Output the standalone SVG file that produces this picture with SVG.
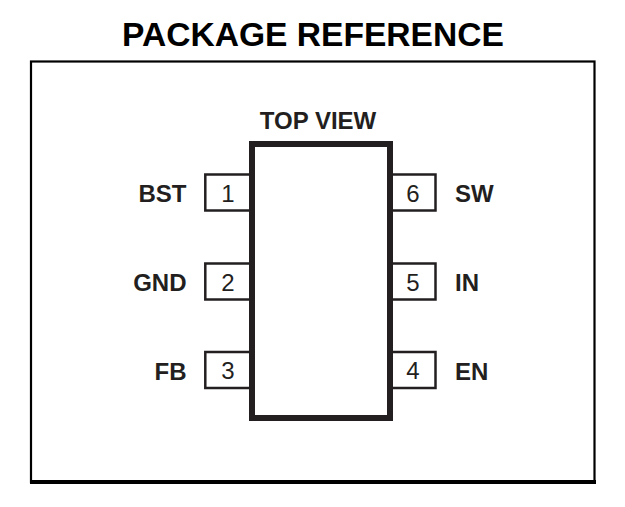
<svg xmlns="http://www.w3.org/2000/svg" width="625" height="507" viewBox="0 0 625 507">
<style>
.lbl{font-family:"Liberation Sans",Arial,sans-serif;font-weight:bold;font-size:24px;fill:#231f20}
.num{font-family:"Liberation Sans",Arial,sans-serif;font-size:24px;fill:#231f20;text-anchor:middle}
.pin{fill:#fff;stroke:#231f20;stroke-width:2.5}
</style>
<rect width="625" height="507" fill="#fff"/>
<text x="313" y="46" text-anchor="middle" font-family="Liberation Sans, Arial, sans-serif" font-weight="bold" font-size="33.6" fill="#000">PACKAGE REFERENCE</text>
<g id="frame">
<rect x="31" y="61.5" width="563.5" height="420.5" fill="none" stroke="#000" stroke-width="2.2"/>
<line x1="30" y1="482" x2="596" y2="482" stroke="#000" stroke-width="4"/>
</g>
<text x="318" y="129" text-anchor="middle" class="lbl" font-size="24.5">TOP VIEW</text>
<g id="pins">
<g id="pin1"><rect class="pin" x="205.3" y="174.5" width="46" height="36"/><text class="num" x="228" y="201.5">1</text><text class="lbl" x="186.5" y="202" text-anchor="end">BST</text></g>
<g id="pin2"><rect class="pin" x="205.3" y="263.5" width="46" height="36"/><text class="num" x="228" y="290.5">2</text><text class="lbl" x="186.5" y="291" text-anchor="end">GND</text></g>
<g id="pin3"><rect class="pin" x="205.3" y="352" width="46" height="36"/><text class="num" x="228" y="379">3</text><text class="lbl" x="186.5" y="379.5" text-anchor="end">FB</text></g>
<g id="pin6"><rect class="pin" x="389.5" y="174.5" width="46" height="36"/><text class="num" x="413" y="201.5">6</text><text class="lbl" x="455" y="202">SW</text></g>
<g id="pin5"><rect class="pin" x="389.5" y="263.5" width="46" height="36"/><text class="num" x="413" y="290.5">5</text><text class="lbl" x="455" y="291">IN</text></g>
<g id="pin4"><rect class="pin" x="389.5" y="352" width="46" height="36"/><text class="num" x="413" y="379">4</text><text class="lbl" x="455" y="379.5">EN</text></g>
</g>
<g id="body">
<rect x="252" y="144" width="138" height="274" fill="none" stroke="#231f20" stroke-width="6"/>
</g>
<g id="connectors"></g>
</svg>
